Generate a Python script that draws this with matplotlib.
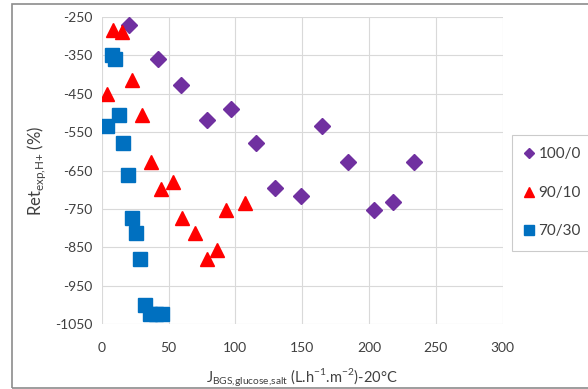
import matplotlib.pyplot as plt
from matplotlib.patches import Rectangle

# 100/0 series (purple diamonds)
x_100 = [20.4, 41.8, 59.0, 78.8, 96.5, 115.7, 130.0, 149.3, 165.0, 184.6, 233.6, 204.0, 218.0]
y_100 = [-271, -359, -427, -518, -490, -579, -696, -716, -533, -627, -627, -752, -733]

# 90/10 series (red triangles)
x_90 = [8.7, 15.4, 23.0, 3.7, 30.3, 36.8, 44.3, 53.0, 60.1, 69.6, 78.8, 86.3, 93.3, 107.5]
y_90 = [-284, -290, -414, -451, -505, -628, -698, -679, -773, -813, -880, -857, -754, -735]

# 70/30 series (blue squares)
x_70 = [7.5, 9.9, 13.1, 4.2, 16.1, 19.9, 22.8, 25.6, 28.6, 32.3, 36.0, 40.3, 44.8]
y_70 = [-349, -359, -505, -534, -579, -661, -773, -813, -880, -1000, -1024, -1024, -1024]

x_ticks = [0, 50, 100, 150, 200, 250, 300]
y_ticks = [-250, -350, -450, -550, -650, -750, -850, -950, -1050]

plt.rcParams["font.family"] = ["Lato", "DejaVu Sans"]
plt.rcParams["axes.unicode_minus"] = False

fig = plt.figure(figsize=(5.88, 3.89), dpi=100)
ax = fig.add_axes([0.173, 0.167, 0.682, 0.789])

ax.plot(x_100, y_100, "D", color="#7030A0", markersize=8, linestyle="none", label="100/0")
ax.plot(x_90, y_90, "^", color="#FF0000", markersize=10, linestyle="none", label="90/10")
ax.plot(x_70, y_70, "s", color="#0070C0", markersize=10, linestyle="none", label="70/30")

ax.set_xlim(0, 300)
ax.set_ylim(-1050, -250)
ax.set_xticks(x_ticks)
ax.set_yticks(y_ticks)
ax.tick_params(length=0, labelsize=10, colors="#404040")
ax.tick_params(axis="x", pad=13)
ax.tick_params(axis="y", pad=7)
ax.grid(True, color="#D9D9D9", linewidth=0.8)
ax.set_axisbelow(True)
for s in ax.spines.values():
    s.set_visible(False)

ax.set_xlabel(r"J$_{\mathregular{BGS{,}glucose{,}salt}}$ (L.h$^{\mathregular{-1}}$.m$^{\mathregular{-2}}$)-20°C",
              fontsize=10.5, color="#404040", labelpad=9)
ax.set_ylabel(r"Ret$_{\mathregular{exp{,}H{+}}}$ (%)", fontsize=12, color="#404040", labelpad=5)

leg = ax.legend(loc="upper left", bbox_to_anchor=(1.005, 0.64), frameon=True, fancybox=False,
                fontsize=11, labelspacing=1.6, handlelength=0.6, handletextpad=0.3,
                borderpad=0.8, markerscale=0.7)
leg.get_frame().set_edgecolor("#BFBFBF")
leg.get_frame().set_linewidth(0.8)
for t in leg.get_texts():
    t.set_color("#404040")

fig.patches.append(Rectangle((12 / 588, 1 / 389), 1.2, 384 / 389, transform=fig.transFigure,
                             fill=False, edgecolor="#8C8C8C", linewidth=1.2))

fig.savefig("out.png", dpi=100)
